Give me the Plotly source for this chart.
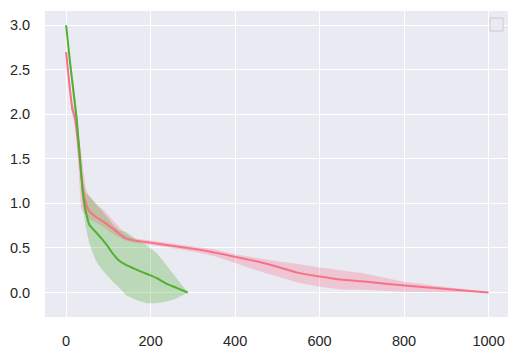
import plotly.graph_objects as go

# Curva vermelha (média e faixa)
red_x = [0, 8, 15, 20, 28, 35, 40, 47, 55, 70, 90, 110, 140, 160, 200, 250, 300,
         350, 400, 450, 500, 550, 600, 650, 700, 800, 900, 1000]
red_y = [2.70, 2.32, 2.05, 1.98, 1.70, 1.35, 1.15, 1.00, 0.91, 0.85, 0.79, 0.72, 0.61,
         0.585, 0.56, 0.525, 0.49, 0.45, 0.40, 0.35, 0.29, 0.22, 0.18, 0.145, 0.125,
         0.08, 0.04, 0.0]
red_up = [2.72, 2.36, 2.12, 2.08, 1.85, 1.60, 1.40, 1.15, 1.08, 1.00, 0.92, 0.82, 0.66,
          0.61, 0.585, 0.55, 0.52, 0.485, 0.43, 0.39, 0.35, 0.32, 0.28, 0.25, 0.22,
          0.12, 0.06, 0.0]
red_lo = [2.68, 2.28, 1.98, 1.90, 1.50, 0.95, 0.90, 0.87, 0.82, 0.79, 0.73, 0.66, 0.585,
          0.56, 0.535, 0.50, 0.46, 0.41, 0.33, 0.25, 0.18, 0.11, 0.065, 0.035, 0.03,
          0.008, 0.003, 0.0]

# Curva verde
green_x = [0, 10, 20, 25, 33, 40, 47, 55, 70, 83, 100, 110, 125, 142, 165, 190, 215,
           237, 260, 288]
green_y = [3.0, 2.55, 2.15, 1.95, 1.49, 1.10, 0.90, 0.76, 0.68, 0.61, 0.51, 0.44, 0.36,
           0.31, 0.26, 0.21, 0.16, 0.10, 0.055, 0.0]
green_up = [3.02, 2.60, 2.25, 2.05, 1.60, 1.25, 1.11, 1.08, 1.00, 0.93, 0.83, 0.77, 0.70,
            0.68, 0.60, 0.53, 0.44, 0.31, 0.17, 0.0]
green_lo = [2.98, 2.50, 2.05, 1.85, 1.40, 0.95, 0.72, 0.55, 0.36, 0.27, 0.17, 0.12, 0.06,
            -0.03, -0.08, -0.12, -0.12, -0.10, -0.07, 0.0]

x_ticks = [0, 200, 400, 600, 800, 1000]
y_ticks = [0.0, 0.5, 1.0, 1.5, 2.0, 2.5, 3.0]

RED = "#f77189"
GREEN = "#50b131"

fig = go.Figure()

def faixa(x, lo, up, cor_rgba):
    fig.add_trace(go.Scatter(x=x, y=up, mode="lines", line=dict(width=0),
                             showlegend=False, hoverinfo="skip"))
    fig.add_trace(go.Scatter(x=x, y=lo, mode="lines", line=dict(width=0),
                             fill="tonexty", fillcolor=cor_rgba,
                             showlegend=False, hoverinfo="skip"))

faixa(red_x, red_lo, red_up, "rgba(247,113,137,0.3)")
faixa(green_x, green_lo, green_up, "rgba(80,177,49,0.3)")

fig.add_trace(go.Scatter(x=red_x, y=red_y, mode="lines",
                         line=dict(color=RED, width=2, shape="spline", smoothing=0.5),
                         showlegend=False))
fig.add_trace(go.Scatter(x=green_x, y=green_y, mode="lines",
                         line=dict(color=GREEN, width=2, shape="spline", smoothing=0.5),
                         showlegend=False))

# legenda vazia (caixinha no canto)
fig.add_shape(type="rect", xref="paper", yref="paper",
              xsizemode="pixel", ysizemode="pixel", xanchor=1, yanchor=1,
              x0=-18, x1=-5, y0=-7, y1=-20,
              line=dict(color="#cccccc", width=1), fillcolor="rgba(234,234,242,0.8)")

fig.update_layout(
    width=519, height=355,
    margin=dict(l=45, r=11, t=11, b=38),
    paper_bgcolor="white",
    plot_bgcolor="#eaeaf2",
    font=dict(family="Liberation Sans, Arial, sans-serif", size=14.5, color="#262626"),
    showlegend=False,
    xaxis=dict(range=[-50, 1046], tickvals=x_ticks, showgrid=True, gridcolor="white",
               gridwidth=1, zeroline=False, showline=False, ticks="outside", ticklen=11,
               tickcolor="rgba(0,0,0,0)", automargin=False),
    yaxis=dict(range=[-0.275, 3.16], tickvals=y_ticks, tickformat=".1f", showgrid=True,
               gridcolor="white", gridwidth=1, zeroline=False, showline=False,
               ticks="outside", ticklen=11, tickcolor="rgba(0,0,0,0)", automargin=False),
)

# tira a margem do body para a figura ocupar a janela toda
fig.write_html("out.html", config={"displayModeBar": False},
               post_script="document.body.style.margin='0';")
